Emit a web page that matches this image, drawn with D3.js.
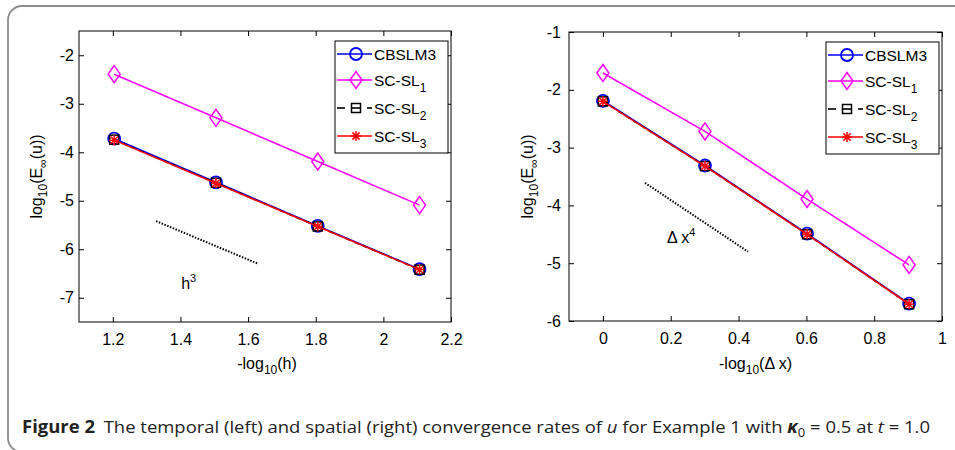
<!DOCTYPE html>
<html>
<head>
<meta charset="utf-8">
<script src="https://cdn.jsdelivr.net/npm/d3@7"></script>
<style>
  body { margin: 0; background: #fff; }
  svg { display: block; }
  text { font-family: "Liberation Sans", Arial, Helvetica, sans-serif; }
</style>
</head>
<body>
<svg id="fig" width="955" height="450"></svg>
<script>
// left panel: temporal convergence
const hX = [1.204, 1.505, 1.806, 2.107];
const hCBSLM3 = [-3.72, -4.62, -5.52, -6.41];
const hSCSL1 = [-2.39, -3.29, -4.19, -5.09];
const hSCSL2 = [-3.74, -4.63, -5.53, -6.42];
const hSCSL3 = [-3.75, -4.64, -5.53, -6.42];
const hXTicks = [1.2, 1.4, 1.6, 1.8, 2, 2.2];
const hYTicks = [-2, -3, -4, -5, -6, -7];
const hSlope = [[1.328, -5.42], [1.63, -6.30]];
const hSlopeLabel = [1.402, -6.81];

// right panel: spatial convergence
const dxX = [0, 0.301, 0.602, 0.903];
const dxCBSLM3 = [-2.19, -3.31, -4.49, -5.70];
const dxSCSL1 = [-1.71, -2.72, -3.89, -5.03];
const dxSCSL2 = [-2.20, -3.32, -4.50, -5.71];
const dxSCSL3 = [-2.20, -3.32, -4.50, -5.71];
const dxXTicks = [0, 0.2, 0.4, 0.6, 0.8, 1];
const dxYTicks = [-1, -2, -3, -4, -5, -6];
const dxSlope = [[0.124, -3.61], [0.428, -4.80]];
const dxSlopeLabel = [0.189, -4.65];

// legend names: base text + subscript
const seriesNames = [["CBSLM3", ""], ["SC-SL", "1"], ["SC-SL", "2"], ["SC-SL", "3"]];

const svg = d3.select("#fig");
const FS = 16;

// rounded frame around the figure
svg.append("rect")
  .attr("x", 8).attr("y", 6)
  .attr("width", 1100).attr("height", 446)
  .attr("rx", 14)
  .attr("fill", "none")
  .attr("stroke", "#8c8c8c")
  .attr("stroke-width", 1.8);

const styles = [
  { color: "#0000ff", dash: null, marker: "circle" },
  { color: "#ff00ff", dash: null, marker: "diamond" },
  { color: "#000000", dash: "5,4", marker: "square" },
  { color: "#ff0000", dash: null, marker: "star" }
];

function drawMarker(g, type, color, x, y) {
  if (type === "circle") {
    g.append("circle").attr("cx", x).attr("cy", y).attr("r", 6)
      .attr("fill", "none").attr("stroke", color).attr("stroke-width", 1.8);
  } else if (type === "diamond") {
    g.append("path")
      .attr("d", `M${x},${y - 8.5}L${x + 6},${y}L${x},${y + 8.5}L${x - 6},${y}Z`)
      .attr("fill", "none").attr("stroke", color).attr("stroke-width", 1.5);
  } else if (type === "square") {
    g.append("rect").attr("x", x - 4.5).attr("y", y - 4.5)
      .attr("width", 9).attr("height", 9)
      .attr("fill", "none").attr("stroke", color).attr("stroke-width", 1.5);
  } else if (type === "star") {
    const r = 5;
    const d = r * 0.72;
    g.append("path")
      .attr("d", `M${x - r},${y}L${x + r},${y}M${x},${y - r}L${x},${y + r}` +
        `M${x - d},${y - d}L${x + d},${y + d}M${x - d},${y + d}L${x + d},${y - d}`)
      .attr("stroke", color).attr("stroke-width", 1.5);
  }
}

// plain hyphen minus like MATLAB, not the unicode one d3.format gives
const fmt = d => String(d);

function drawPanel(cfg) {
  const x = d3.scaleLinear().domain(cfg.xDomain).range([cfg.left, cfg.right]);
  const y = d3.scaleLinear().domain(cfg.yDomain).range([cfg.bottom, cfg.top]);
  const g = svg.append("g");

  // axes with inward ticks on all four sides
  const bottomAx = g.append("g").attr("transform", `translate(0,${cfg.bottom})`)
    .call(d3.axisBottom(x).tickValues(cfg.xTicks).tickSizeInner(-5).tickSizeOuter(0)
      .tickPadding(12).tickFormat(fmt));
  const topAx = g.append("g").attr("transform", `translate(0,${cfg.top})`)
    .call(d3.axisTop(x).tickValues(cfg.xTicks).tickSizeInner(-5).tickSizeOuter(0).tickFormat(""));
  const leftAx = g.append("g").attr("transform", `translate(${cfg.left},0)`)
    .call(d3.axisLeft(y).tickValues(cfg.yTicks).tickSizeInner(-5).tickSizeOuter(0)
      .tickPadding(cfg.yPad).tickFormat(fmt));
  const rightAx = g.append("g").attr("transform", `translate(${cfg.right},0)`)
    .call(d3.axisRight(y).tickValues(cfg.yTicks).tickSizeInner(-5).tickSizeOuter(0).tickFormat(""));
  [bottomAx, topAx, leftAx, rightAx].forEach(a => {
    a.attr("font-family", null).attr("font-size", null);
    a.select(".domain").remove();
    a.selectAll("line").attr("stroke", "#000");
    a.selectAll("text").attr("font-size", FS).attr("fill", "#000");
  });
  bottomAx.selectAll("text").attr("dy", null).attr("y", 23);

  g.append("rect")
    .attr("x", cfg.left).attr("y", cfg.top)
    .attr("width", cfg.right - cfg.left).attr("height", cfg.bottom - cfg.top)
    .attr("fill", "none").attr("stroke", "#000").attr("stroke-width", 1);

  // series
  const line = d3.line().x(d => x(d[0])).y(d => y(d[1]));
  cfg.series.forEach((vals, i) => {
    const st = styles[i];
    const pts = cfg.xs.map((v, j) => [v, vals[j]]);
    g.append("path").datum(pts)
      .attr("d", line)
      .attr("fill", "none")
      .attr("stroke", st.color)
      .attr("stroke-width", 1.6)
      .attr("stroke-dasharray", st.dash);
    pts.forEach(p => drawMarker(g, st.marker, st.color, x(p[0]), y(p[1])));
  });

  // slope reference line
  g.append("path").datum(cfg.slope)
    .attr("d", line)
    .attr("fill", "none")
    .attr("stroke", "#000")
    .attr("stroke-width", 2)
    .attr("stroke-dasharray", "1.5,1.5");
  const sl = g.append("text")
    .attr("x", x(cfg.slopeLabel[0])).attr("y", y(cfg.slopeLabel[1]))
    .attr("font-size", FS);
  sl.append("tspan").text(cfg.slopeText);
  sl.append("tspan").attr("dy", -7).attr("font-size", 11).text(cfg.slopePow);

  // axis labels
  const xl = g.append("text")
    .attr("x", (cfg.left + cfg.right) / 2 + cfg.xLabelShift).attr("y", 369)
    .attr("text-anchor", "middle").attr("font-size", FS);
  xl.append("tspan").text("-log");
  xl.append("tspan").attr("dy", 5).attr("font-size", 12).text("10");
  xl.append("tspan").attr("dy", -5).text(cfg.xLabelArg);

  const yl = g.append("text")
    .attr("transform", `translate(${cfg.yLabelX},${(cfg.top + cfg.bottom) / 2}) rotate(-90)`)
    .attr("text-anchor", "middle").attr("font-size", FS);
  yl.append("tspan").text("log");
  yl.append("tspan").attr("dy", 5).attr("font-size", 12).text("10");
  yl.append("tspan").attr("dy", -5).text("(E");
  yl.append("tspan").attr("dy", 5).attr("font-size", 12).text("\u221e");
  yl.append("tspan").attr("dy", -5).text("(u))");

  // legend
  const lw = 113, lh = 112;
  const lx = cfg.right - 3 - lw, ly = cfg.top + 10;
  const lg = g.append("g");
  lg.append("rect").attr("x", lx).attr("y", ly).attr("width", lw).attr("height", lh)
    .attr("fill", "#fff").attr("stroke", "#000").attr("stroke-width", 1);
  const rowY = [13, 39, 67, 95];
  seriesNames.forEach((nm, i) => {
    const st = styles[i];
    const yy = ly + rowY[i];
    if (st.dash) {
      [[2, 10], [16, 26], [32, 37]].forEach(s => {
        lg.append("line").attr("x1", lx + s[0]).attr("x2", lx + s[1]).attr("y1", yy).attr("y2", yy)
          .attr("stroke", st.color).attr("stroke-width", 1.6);
      });
    } else {
      lg.append("line").attr("x1", lx + 2).attr("x2", lx + 37).attr("y1", yy).attr("y2", yy)
        .attr("stroke", st.color).attr("stroke-width", 1.6);
    }
    drawMarker(lg, st.marker, st.color, lx + 21, yy);
    const t = lg.append("text").attr("x", lx + 39).attr("y", yy + 5.5).attr("font-size", 15.5);
    t.append("tspan").text(nm[0]);
    if (nm[1]) t.append("tspan").attr("dy", 6).attr("font-size", 12).text(nm[1]);
  });
}

drawPanel({
  left: 79, right: 451, top: 31, bottom: 322,
  xDomain: [1.1, 2.2], yDomain: [-7.5, -1.5],
  xTicks: hXTicks, yTicks: hYTicks, yPad: 5,
  xs: hX, series: [hCBSLM3, hSCSL1, hSCSL2, hSCSL3],
  slope: hSlope, slopeLabel: hSlopeLabel, slopeText: "h", slopePow: "3",
  xLabelArg: "(h)", xLabelShift: 2, yLabelX: 42
});

drawPanel({
  left: 569, right: 942, top: 32, bottom: 321,
  xDomain: [-0.1, 1], yDomain: [-6, -1],
  xTicks: dxXTicks, yTicks: dxYTicks, yPad: 8,
  xs: dxX, series: [dxCBSLM3, dxSCSL1, dxSCSL2, dxSCSL3],
  slope: dxSlope, slopeLabel: dxSlopeLabel, slopeText: "\u0394 x", slopePow: "4",
  xLabelArg: "(\u0394 x)", xLabelShift: 0, yLabelX: 533
});

// caption
const cap = svg.append("text")
  .attr("x", 22).attr("y", 433)
  .attr("font-size", 17)
  .style("font-family", '"Open Sans", "Noto Sans", sans-serif')
  .attr("fill", "#222")
  .attr("textLength", 908)
  .attr("lengthAdjust", "spacingAndGlyphs");
cap.append("tspan").attr("font-weight", "bold").text("Figure 2");
cap.append("tspan").attr("dx", 8).text("The temporal (left) and spatial (right) convergence rates of ");
cap.append("tspan").attr("font-style", "italic").text("u");
cap.append("tspan").text(" for Example 1 with ");
cap.append("tspan").attr("font-style", "italic").attr("font-weight", "bold").text("\u03ba");
cap.append("tspan").attr("dy", 4).attr("font-size", 12).text("0");
cap.append("tspan").attr("dy", -4).text(" = 0.5 at ");
cap.append("tspan").attr("font-style", "italic").text("t");
cap.append("tspan").text(" = 1.0");
</script>
</body>
</html>
